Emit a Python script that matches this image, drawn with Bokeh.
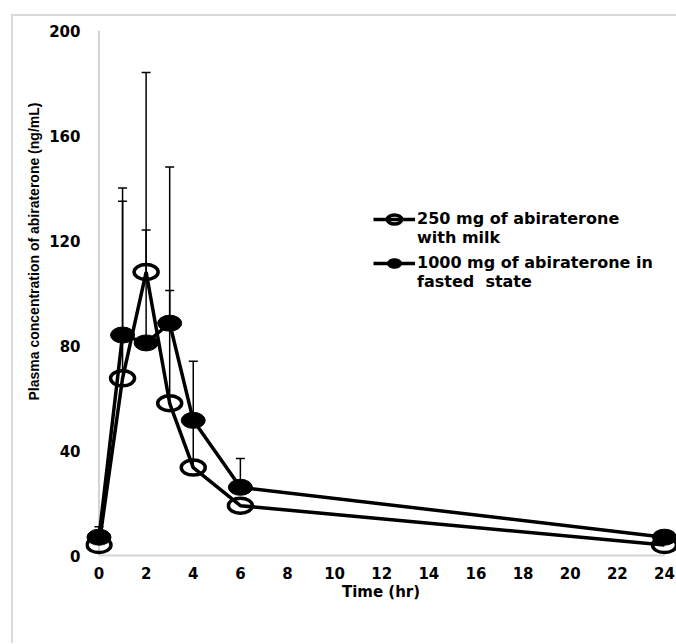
from bokeh.plotting import figure
from bokeh.models import (ColumnDataSource, Whisker, TeeHead, Legend, LegendItem,
                          FixedTicker, Title, Range1d)
from bokeh.embed import file_html
from bokeh.resources import INLINE

# ---- data ----
time_hr = [0, 1, 2, 3, 4, 6, 24]
milk_250 = [4, 67.5, 108, 58, 33.5, 19, 4]          # 250 mg of abiraterone with milk
fasted_1000 = [7, 84, 81, 88.5, 51.5, 26, 7]        # 1000 mg of abiraterone in fasted state
milk_sd = [None, 67.5, 16, 43, 40.5, None, None]
fasted_sd = [4, 56, 103, 59.5, None, 11, None]
x_ticks = [0, 2, 4, 6, 8, 10, 12, 14, 16, 18, 20, 22, 24]
y_ticks = [0, 40, 80, 120, 160, 200]
label_milk = ["250 mg of abiraterone", "with milk"]
label_fasted = ["1000 mg of abiraterone in", "fasted  state"]

TICK_FONT = "DejaVu Sans"

p = figure(frame_width=591, frame_height=529, output_backend="svg", toolbar_location=None,
           x_range=Range1d(-0.573, 24.51), y_range=Range1d(-1.5, 200),
           min_border_left=72, min_border_right=0, min_border_top=14, min_border_bottom=84)
p.styles = {"margin-left": "11px", "margin-top": "14px",
            "border-left": "2px solid #d9d9d9", "border-top": "2px solid #d9d9d9"}
p.outline_line_color = None
p.grid.grid_line_color = None

for ax in (p.xaxis[0], p.yaxis[0]):
    ax.axis_line_color = None
    ax.major_tick_line_color = None
    ax.minor_tick_line_color = None
    ax.major_label_text_font = TICK_FONT
    ax.major_label_text_font_style = "bold"
    ax.major_label_text_font_size = "15px"
    ax.major_label_text_color = "black"

p.yaxis.major_tick_out = 0
p.yaxis.major_tick_in = 0
p.xaxis.ticker = FixedTicker(ticks=x_ticks)
p.yaxis.ticker = FixedTicker(ticks=y_ticks)
p.xaxis.major_label_standoff = 1
p.yaxis.major_label_standoff = 5
p.xaxis.axis_label = "Time (hr)"
p.xaxis.axis_label_text_font = TICK_FONT
p.xaxis.axis_label_text_font_style = "bold"
p.xaxis.axis_label_text_font_size = "15px"
p.xaxis.axis_label_text_color = "black"
p.xaxis.axis_label_standoff = 1

ytitle = Title(text="Plasma concentration of abiraterone (ng/mL)", align="left", offset=159,
               text_font="Liberation Sans", text_font_size="14px",
               text_font_style="bold", text_color="black", standoff=9)
p.add_layout(ytitle, "left")

# axis lines (light grey) spanning the data extents
p.segment(x0=[min(time_hr)], y0=[0], x1=[max(time_hr)], y1=[0],
          line_color="#d4d4d4", line_width=2, level="underlay")
p.segment(x0=[0], y0=[0], x1=[0], y1=[max(y_ticks)],
          line_color="#d4d4d4", line_width=2, level="underlay")

# error bars (upper only)
def whisker_source(means, sds):
    xs, lo, hi = [], [], []
    for t, m, s in zip(time_hr, means, sds):
        if s is not None:
            xs.append(t); lo.append(m); hi.append(m + s)
    return ColumnDataSource(dict(t=xs, lo=lo, hi=hi))

for means, sds in ((milk_250, milk_sd), (fasted_1000, fasted_sd)):
    w = Whisker(source=whisker_source(means, sds), base="t", lower="lo", upper="hi",
                line_color="black", line_width=1.5, lower_head=None,
                upper_head=TeeHead(size=9, line_color="black", line_width=1.5),
                level="underlay")
    p.add_layout(w)

src_milk = ColumnDataSource(dict(t=time_hr, y=milk_250))
src_fast = ColumnDataSource(dict(t=time_hr, y=fasted_1000))

l1 = p.line("t", "y", source=src_milk, line_color="black", line_width=3.5)
e1 = p.ellipse("t", "y", width=24, height=15, width_units="screen", height_units="screen",
               source=src_milk, fill_color=None, line_color="black", line_width=3.5)
l2 = p.line("t", "y", source=src_fast, line_color="black", line_width=3.5)
e2 = p.ellipse("t", "y", width=24, height=16, width_units="screen", height_units="screen",
               source=src_fast, fill_color="black", line_color="black", line_width=1)
# transparent renderer used only to hold the second line of each legend label
blank = p.line("t", "y", source=src_milk, line_alpha=0)

legend_style = dict(glyph_width=42, glyph_height=18,
                    label_text_font=TICK_FONT, label_text_font_style="bold",
                    label_text_font_size="16px", label_text_color="black",
                    label_standoff=2, spacing=0, padding=0, margin=0,
                    background_fill_alpha=0, border_line_color=None)
leg1 = Legend(items=[LegendItem(label=label_milk[0], renderers=[l1, e1]),
                     LegendItem(label=label_milk[1], renderers=[blank])],
              location=(288, 312), **legend_style)
leg2 = Legend(items=[LegendItem(label=label_fasted[0], renderers=[l2, e2]),
                     LegendItem(label=label_fasted[1], renderers=[blank])],
              location=(288, 268), **legend_style)
p.add_layout(leg1, "center")
p.add_layout(leg2, "center")

open("out.html", "w").write(file_html(p, INLINE))
